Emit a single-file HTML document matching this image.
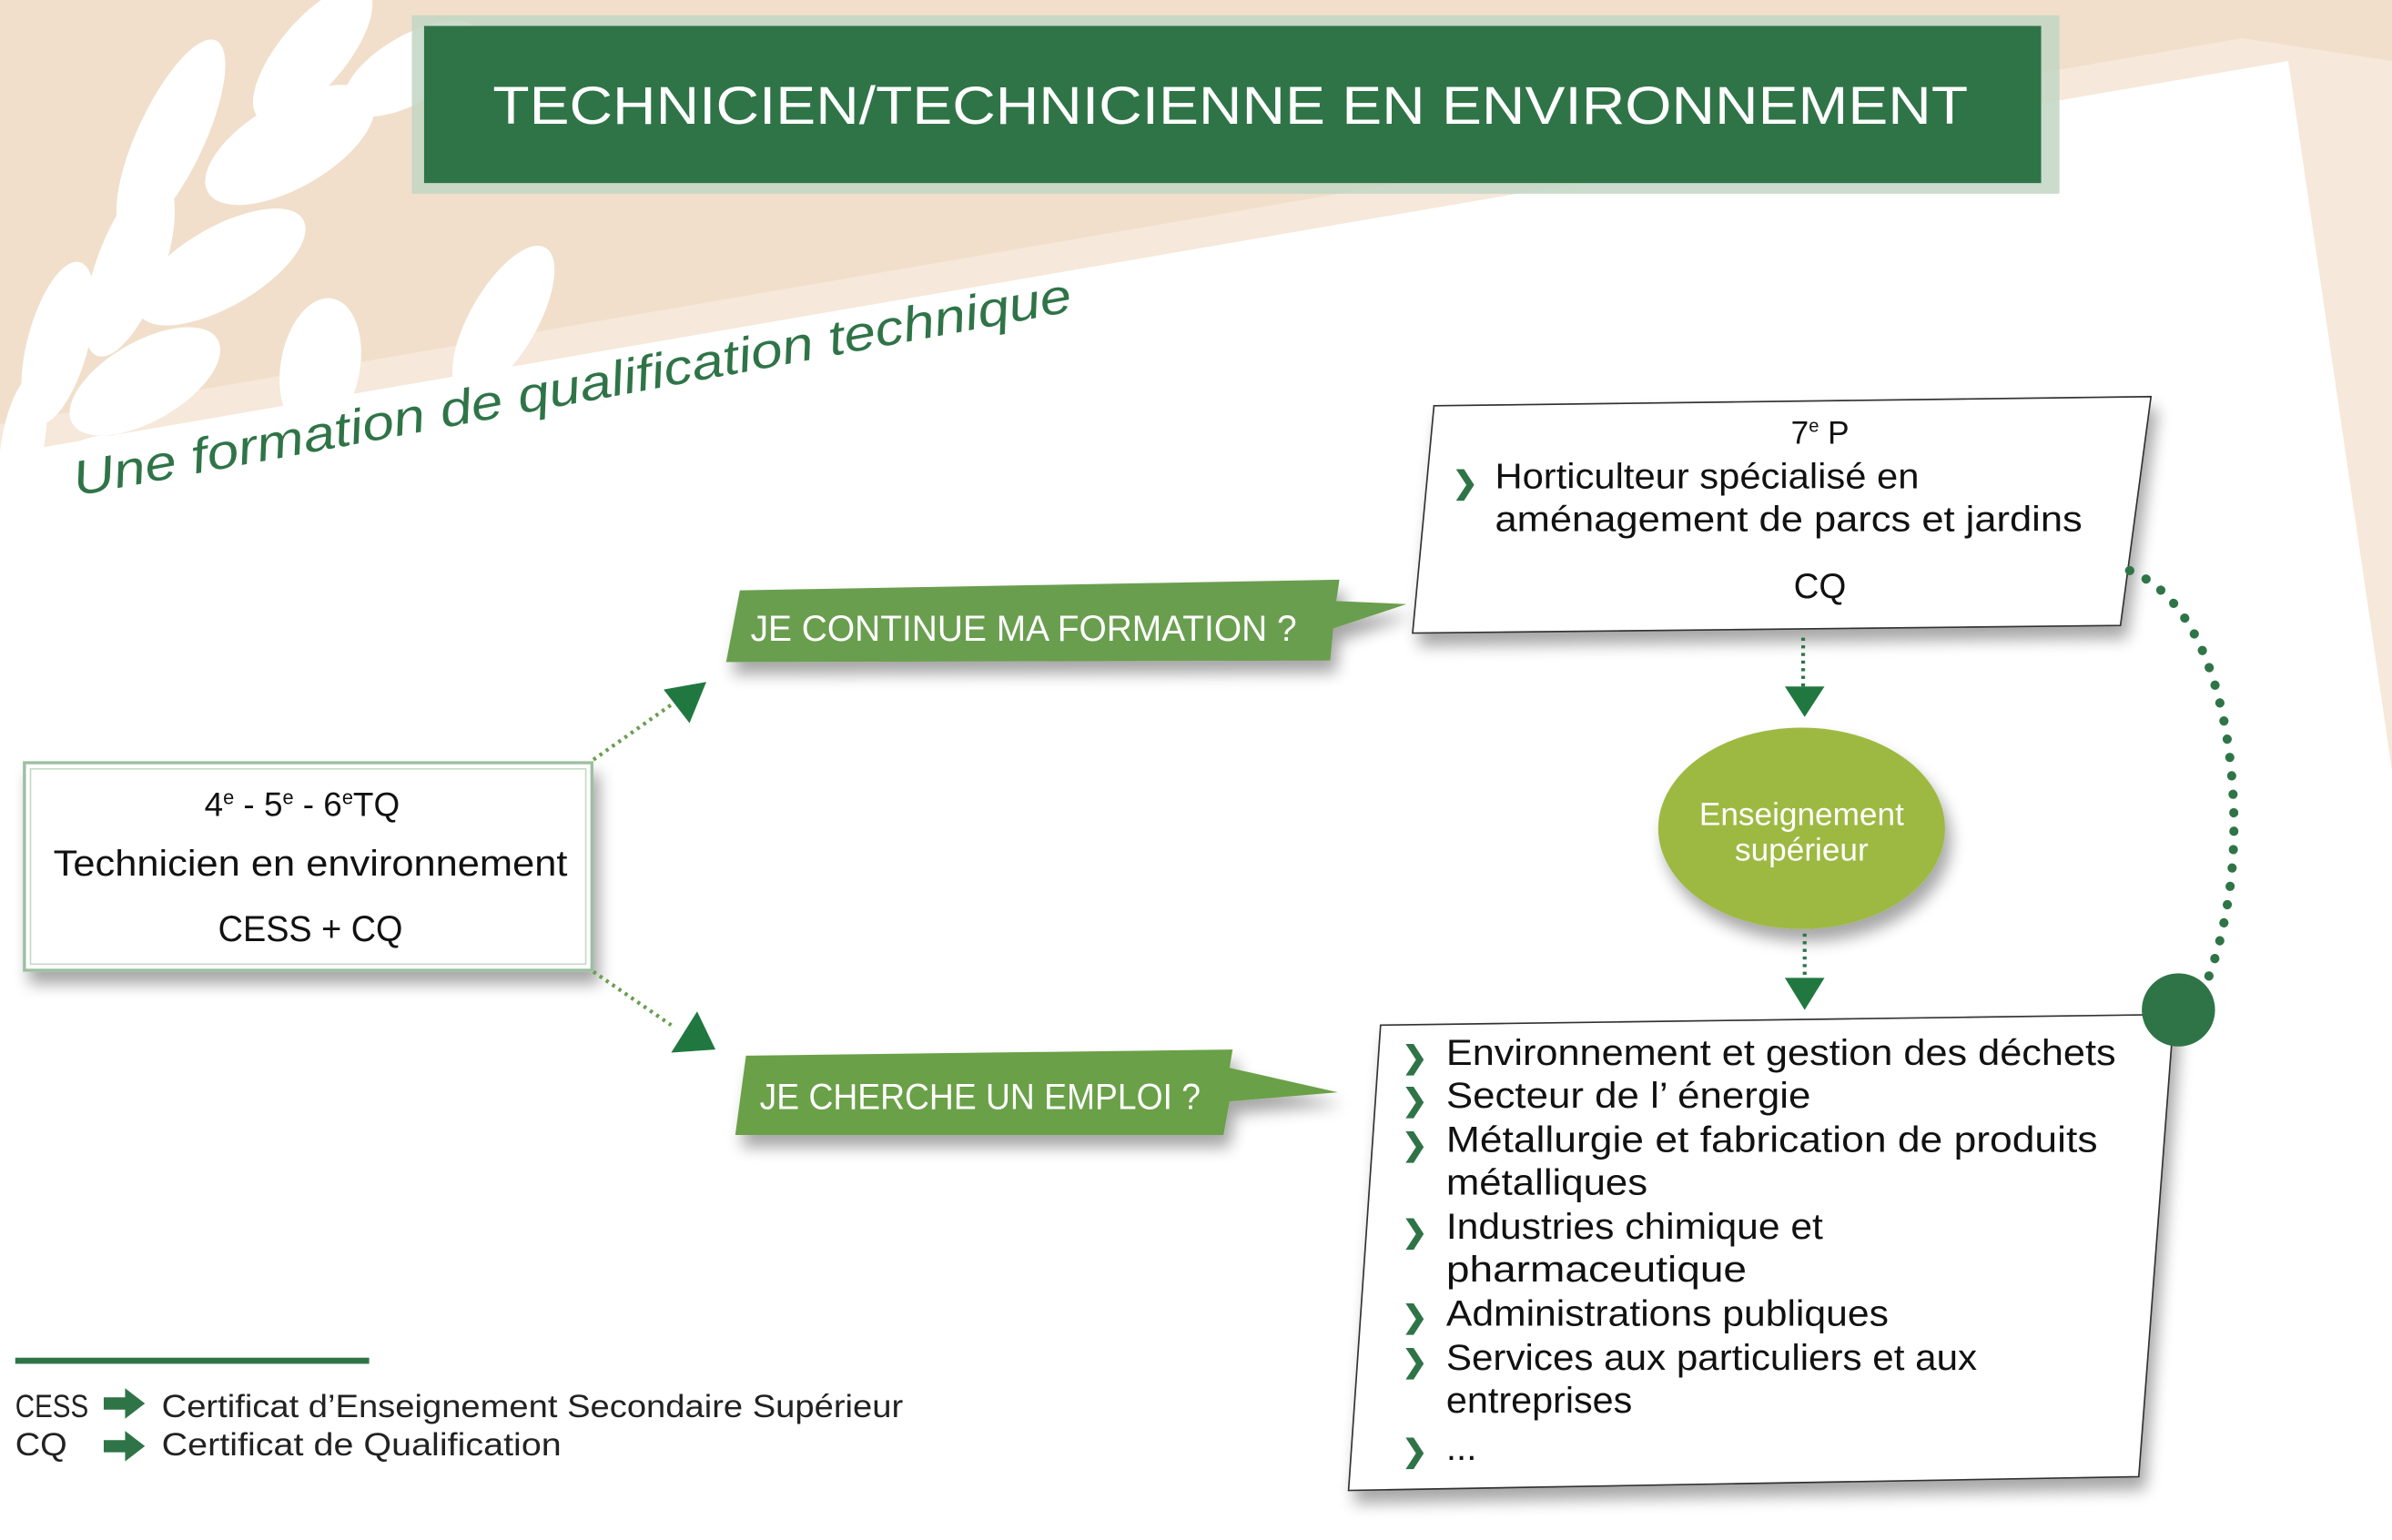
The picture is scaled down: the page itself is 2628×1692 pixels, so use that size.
<!DOCTYPE html>
<html><head><meta charset="utf-8"><style>
html,body{margin:0;padding:0;background:#fff;width:2628px;height:1692px;overflow:hidden}
svg{display:block}
text{font-family:"Liberation Sans",sans-serif}
</style></head><body>
<svg width="2628" height="1692" viewBox="0 0 1568 1009.5" preserveAspectRatio="none" xmlns="http://www.w3.org/2000/svg">
<defs>
<filter id="sh" x="-10%" y="-10%" width="130%" height="140%"><feGaussianBlur in="SourceAlpha" stdDeviation="5"/><feOffset dx="4" dy="8"/><feComponentTransfer><feFuncA type="linear" slope="0.35"/></feComponentTransfer><feMerge><feMergeNode/><feMergeNode in="SourceGraphic"/></feMerge></filter>
</defs>
<rect x="0" y="0" width="1568" height="1010" fill="#f1dfcb"/>
<polygon points="0,278 1470,25 1568,40 1568,1010 0,1010" fill="#f6e8da"/>
<polygon points="0,298 1500,40 1568,505 1568,1010 0,1010" fill="#ffffff"/>
<g fill="#ffffff">
<ellipse cx="112" cy="90" rx="22" ry="70" transform="rotate(25 112 90)"/>
<ellipse cx="205" cy="35" rx="22" ry="55" transform="rotate(40 205 35)"/>
<ellipse cx="190" cy="95" rx="28" ry="62" transform="rotate(60 190 95)"/>
<ellipse cx="85" cy="175" rx="22" ry="62" transform="rotate(20 85 175)"/>
<ellipse cx="145" cy="175" rx="26" ry="62" transform="rotate(60 145 175)"/>
<ellipse cx="38" cy="225" rx="20" ry="55" transform="rotate(15 38 225)"/>
<ellipse cx="95" cy="250" rx="26" ry="55" transform="rotate(60 95 250)"/>
<ellipse cx="15" cy="290" rx="14" ry="45" transform="rotate(10 15 290)"/>
<ellipse cx="55" cy="310" rx="20" ry="35" transform="rotate(60 55 310)"/>
<ellipse cx="210" cy="240" rx="26" ry="45" transform="rotate(10 210 240)"/>
<ellipse cx="180" cy="325" rx="28" ry="60" transform="rotate(60 180 325)"/>
<ellipse cx="275" cy="310" rx="26" ry="65" transform="rotate(25 275 310)"/>
<ellipse cx="330" cy="210" rx="22" ry="55" transform="rotate(30 330 210)"/>
<ellipse cx="270" cy="45" rx="22" ry="50" transform="rotate(60 270 45)"/>
</g>
<rect x="270" y="10" width="1080" height="117" fill="#c2d6c4" opacity="0.85"/>
<rect x="278" y="17" width="1060" height="103" fill="#2f7447"/>
<text x="323" y="81" font-size="35" fill="#fff" textLength="967" lengthAdjust="spacingAndGlyphs">TECHNICIEN/TECHNICIENNE EN ENVIRONNEMENT</text>
<text x="50" y="325" transform="rotate(-10.5 50 325)" font-size="32" font-style="italic" fill="#2f7447" font-family="Liberation Serif, serif" textLength="665" lengthAdjust="spacingAndGlyphs">Une formation de qualification technique</text>
<g filter="url(#sh)"><rect x="16" y="500" width="372" height="136" fill="#fff" stroke="#9dbfa0" stroke-width="2"/></g>
<rect x="20" y="504" width="364" height="128" fill="none" stroke="#c5dbc6" stroke-width="1"/>
<text x="134" y="535" font-size="22" fill="#111">4<tspan font-size="13" dy="-8">e</tspan><tspan dy="8"> - 5</tspan><tspan font-size="13" dy="-8">e</tspan><tspan dy="8"> - 6</tspan><tspan font-size="13" dy="-8">e</tspan><tspan dy="8">TQ</tspan></text>
<text x="35" y="574" font-size="24" fill="#111" textLength="337" lengthAdjust="spacingAndGlyphs">Technicien en environnement</text>
<text x="143" y="617" font-size="24" fill="#111" textLength="121" lengthAdjust="spacingAndGlyphs">CESS + CQ</text>
<line x1="389" y1="498" x2="440" y2="462" stroke="#6a9e4f" stroke-width="2.5" stroke-dasharray="2 3"/>
<polygon points="435,452 463,447 452,474" fill="#207840"/>
<line x1="389" y1="637" x2="440" y2="672" stroke="#6a9e4f" stroke-width="2.5" stroke-dasharray="2 3"/>
<polygon points="440,690 469,688 457,663" fill="#207840"/>
<g filter="url(#sh)">
<polygon points="485,387 878,380 876,394 922,396 874,412 872,433 476,434" fill="#6a9e4f"/>
<polygon points="489,692 808,688 806,700 877,716 806,722 802,744 482,744" fill="#6aa047"/>
</g>
<text x="492" y="420" font-size="24" fill="#fff" textLength="358" lengthAdjust="spacingAndGlyphs">JE CONTINUE MA FORMATION ?</text>
<text x="498" y="727" font-size="24" fill="#fff" textLength="289" lengthAdjust="spacingAndGlyphs">JE CHERCHE UN EMPLOI ?</text>
<g filter="url(#sh)"><polygon points="940,266 1410,260 1390,410 926,415" fill="#fff" stroke="#333" stroke-width="1"/></g>
<text x="1174" y="291" font-size="21" fill="#111">7<tspan font-size="12" dy="-8">e</tspan><tspan dy="8"> P</tspan></text>
<text x="952" y="323" font-size="20" fill="#2f7447" font-weight="bold">❯</text>
<text x="980" y="320" font-size="23" fill="#111" textLength="278" lengthAdjust="spacingAndGlyphs">Horticulteur spécialisé en</text>
<text x="980" y="348" font-size="23" fill="#111" textLength="385" lengthAdjust="spacingAndGlyphs">aménagement de parcs et jardins</text>
<text x="1193" y="392" text-anchor="middle" font-size="23" fill="#111">CQ</text>
<line x1="1182" y1="418" x2="1182" y2="452" stroke="#2f7447" stroke-width="2.5" stroke-dasharray="2 3"/>
<polygon points="1170,450 1196,450 1183,470" fill="#207840"/>
<g filter="url(#sh)"><ellipse cx="1181" cy="543" rx="94" ry="66" fill="#9db943"/></g>
<text x="1181" y="541" text-anchor="middle" font-size="21" fill="#fff">Enseignement</text>
<text x="1181" y="564" text-anchor="middle" font-size="21" fill="#fff">supérieur</text>
<line x1="1183" y1="612" x2="1183" y2="642" stroke="#2f7447" stroke-width="2.5" stroke-dasharray="2 3"/>
<polygon points="1170,641 1196,641 1183,662" fill="#207840"/>
<g filter="url(#sh)"><polygon points="905,672 1425,665 1402,968 884,977" fill="#fff" stroke="#333" stroke-width="1"/></g>
<g font-size="24" fill="#111" lengthAdjust="spacingAndGlyphs">
<text x="948" y="698" textLength="439" lengthAdjust="spacingAndGlyphs">Environnement et gestion des déchets</text>
<text x="948" y="726" textLength="239" lengthAdjust="spacingAndGlyphs">Secteur de l’ énergie</text>
<text x="948" y="755" textLength="427" lengthAdjust="spacingAndGlyphs">Métallurgie et fabrication de produits</text>
<text x="948" y="783" textLength="132" lengthAdjust="spacingAndGlyphs">métalliques</text>
<text x="948" y="812" textLength="247" lengthAdjust="spacingAndGlyphs">Industries chimique et</text>
<text x="948" y="840" textLength="197" lengthAdjust="spacingAndGlyphs">pharmaceutique</text>
<text x="948" y="869" textLength="290" lengthAdjust="spacingAndGlyphs">Administrations publiques</text>
<text x="948" y="898" textLength="348" lengthAdjust="spacingAndGlyphs">Services aux particuliers et aux</text>
<text x="948" y="926" textLength="122" lengthAdjust="spacingAndGlyphs">entreprises</text>
<text x="948" y="957">...</text>
</g>
<g font-size="20" fill="#2f7447" font-weight="bold">
<text x="919" y="700">❯</text><text x="919" y="728">❯</text><text x="919" y="757">❯</text>
<text x="919" y="814">❯</text><text x="919" y="870">❯</text><text x="919" y="899">❯</text><text x="919" y="958">❯</text>
</g>
<path d="M1396,374 C1460,400 1470,520 1462,580 C1458,610 1452,630 1446,645" fill="none" stroke="#2f7447" stroke-width="6" stroke-linecap="round" stroke-dasharray="0.1 12"/>
<circle cx="1428" cy="662" r="24" fill="#2f7447"/>
<rect x="10" y="890" width="232" height="4" fill="#2f7447"/>
<g font-size="21" fill="#222">
<text x="10" y="929" textLength="48" lengthAdjust="spacingAndGlyphs">CESS</text>
<text x="10" y="954" textLength="34" lengthAdjust="spacingAndGlyphs">CQ</text>
<text x="106" y="929" textLength="486" lengthAdjust="spacingAndGlyphs">Certificat d’Enseignement Secondaire Supérieur</text>
<text x="106" y="954" textLength="262" lengthAdjust="spacingAndGlyphs">Certificat de Qualification</text>
</g>
<polygon points="68,916 82,916 82,910 95,920 82,930 82,924 68,924" fill="#2f7447"/>
<polygon points="68,944 82,944 82,938 95,948 82,958 82,952 68,952" fill="#2f7447"/>
</svg>
</body></html>
